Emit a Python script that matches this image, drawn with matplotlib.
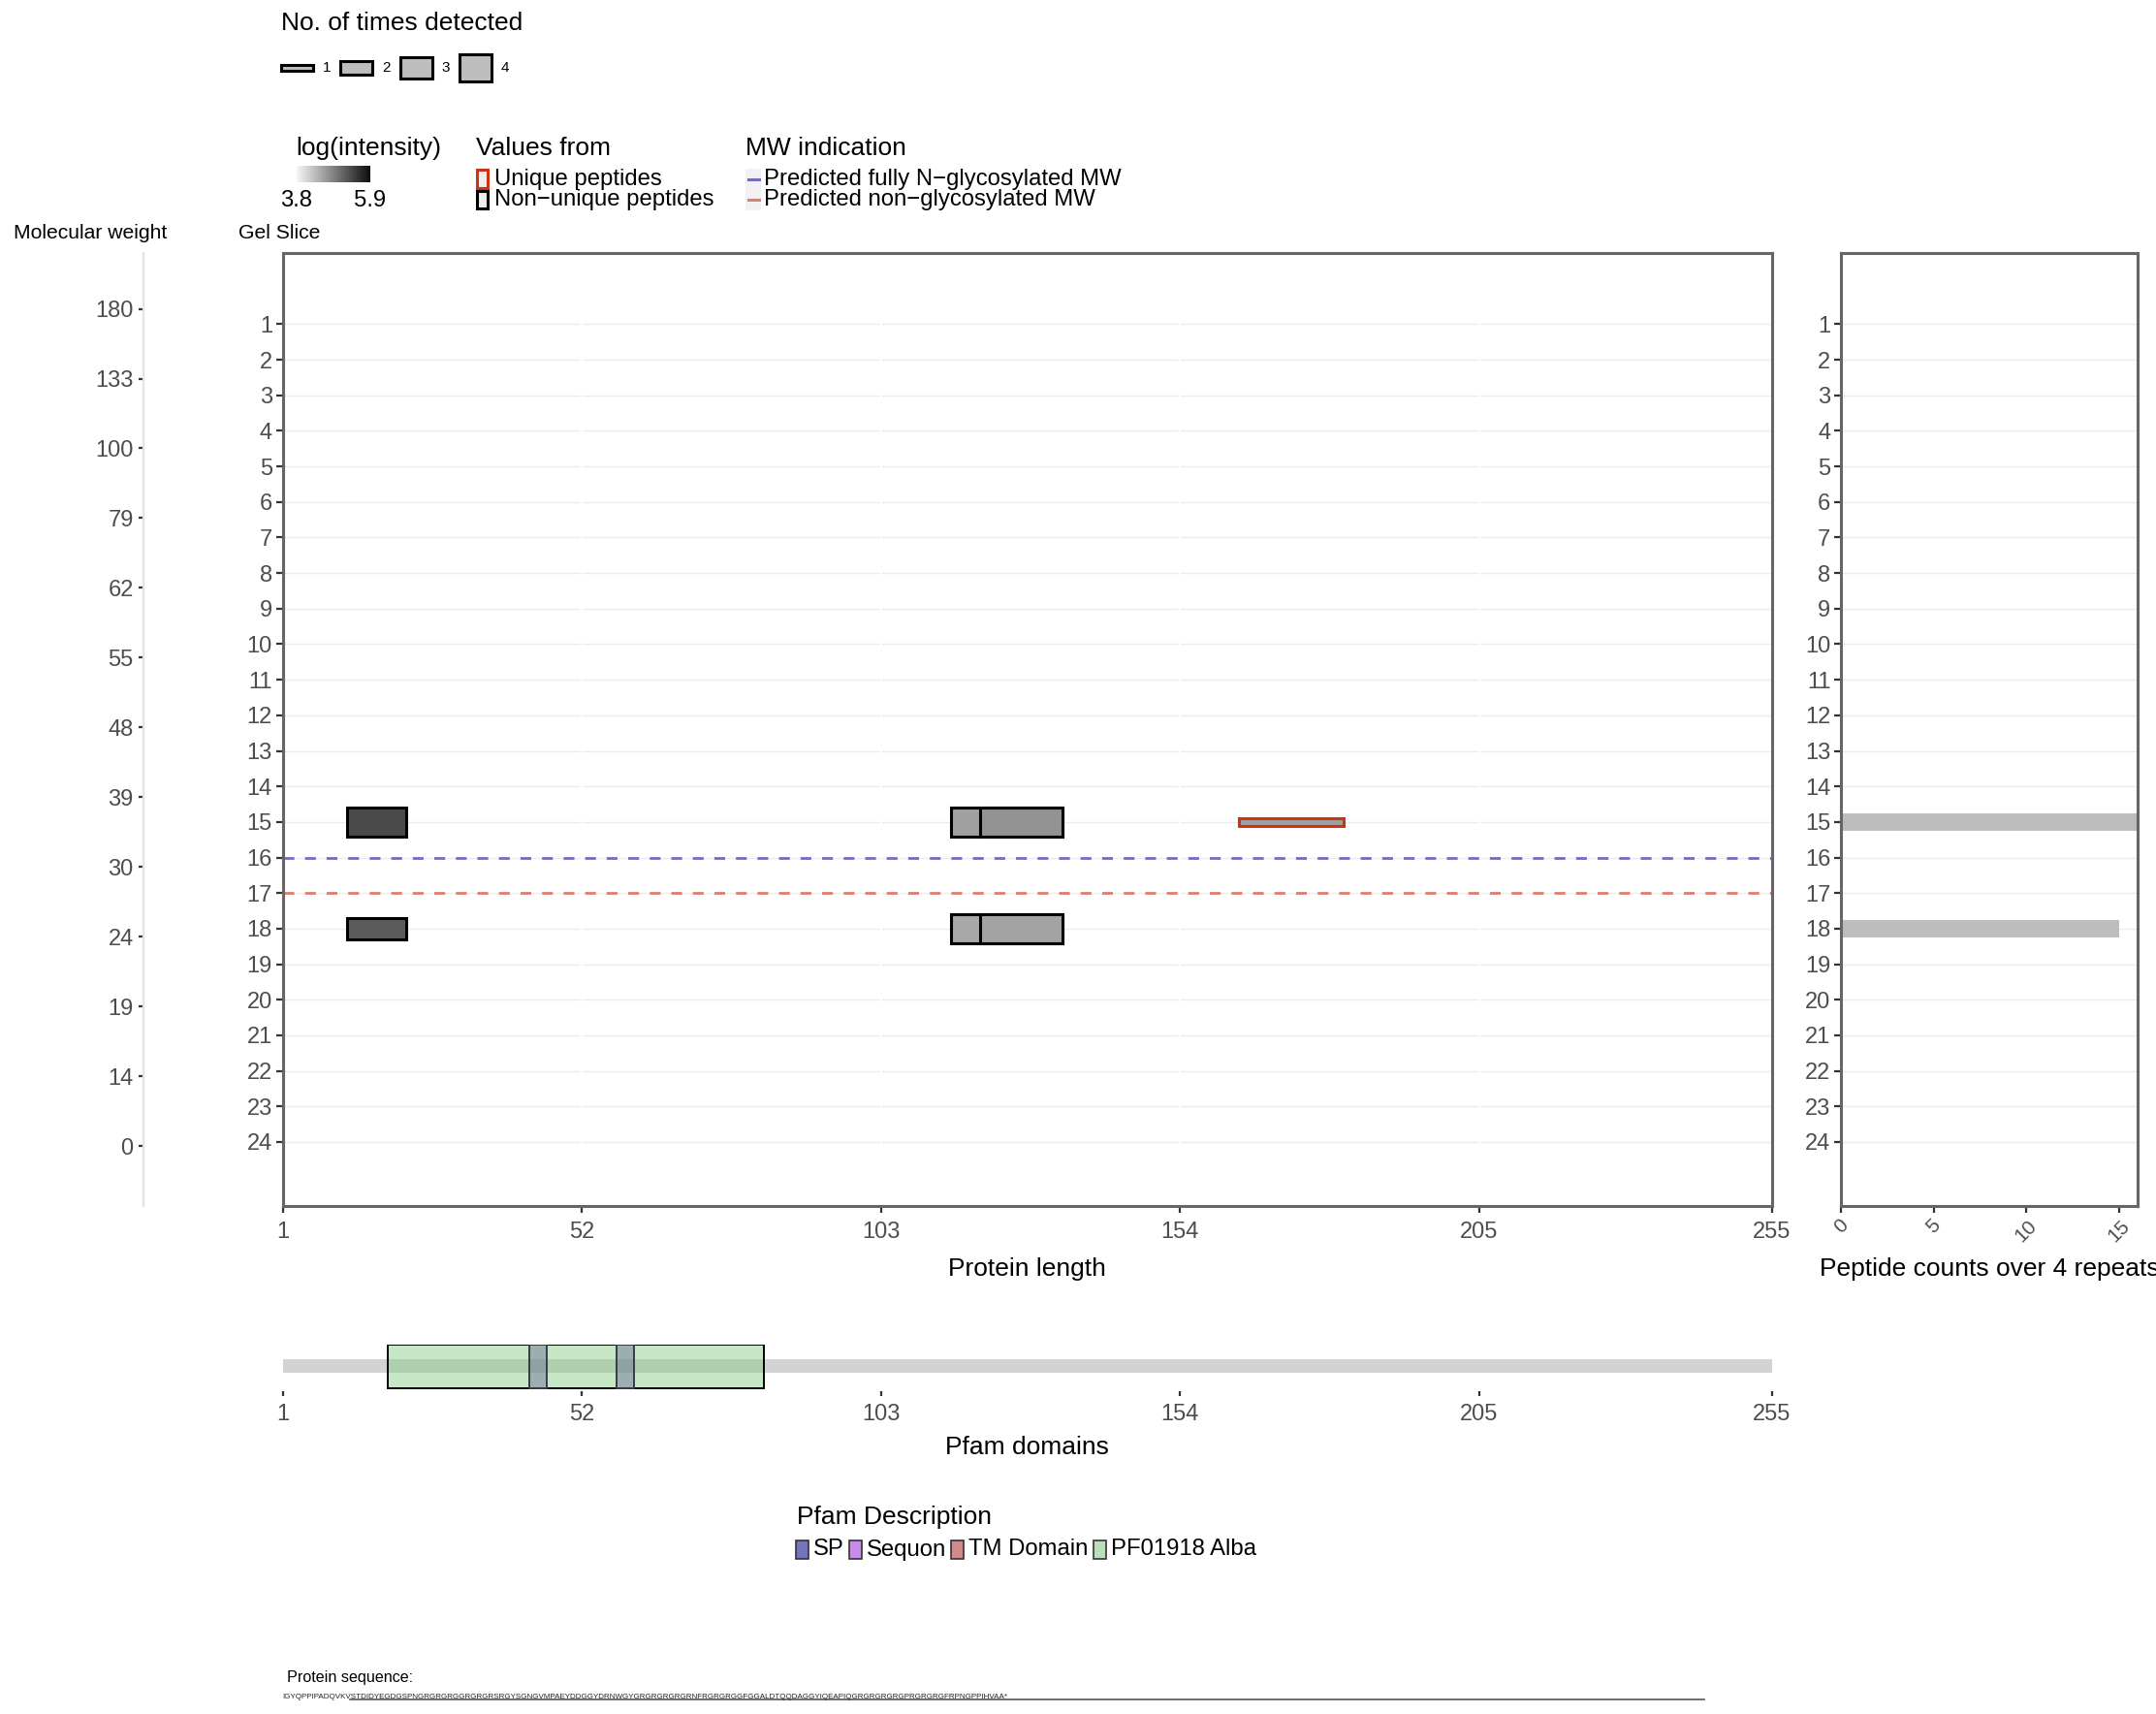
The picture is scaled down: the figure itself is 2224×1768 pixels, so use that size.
import matplotlib
matplotlib.use("Agg")
import matplotlib.pyplot as plt
from matplotlib.patches import Rectangle
from matplotlib.colors import LinearSegmentedColormap, Normalize, to_rgba
from matplotlib.cm import ScalarMappable

plt.rcParams['font.family'] = ['Liberation Sans', 'DejaVu Sans']

W, H, DPI = 2224, 1768, 200

# ---- data ----
slices = list(range(1, 25))
mw_labels = [180, 133, 100, 79, 62, 55, 48, 39, 30, 24, 19, 14, 0]
protein_len = 255
x_ticks = [1, 52, 103, 154, 205, 255]

pep_start = [12, 115, 120, 164, 12, 115, 120]
pep_end = [22, 134, 134, 182, 22, 134, 134]
pep_slice = [15, 15, 15, 15, 18, 18, 18]
pep_times = [4, 4, 4, 1, 3, 4, 4]
pep_intensity = [5.35, 4.58, 4.70, 4.58, 5.19, 4.51, 4.55]
pep_unique = [False, False, False, True, False, False, False]

count_slices = [15, 18]
count_values = [16, 15]
count_ticks = [0, 5, 10, 15]

mw_names = ["Predicted fully N\u2212glycosylated MW", "Predicted non\u2212glycosylated MW"]
mw_slices = [16, 17]
mw_colors = ["#7a68b8", "#de7e6e"]

times_levels = [1, 2, 3, 4]
int_range = [3.8, 5.9]

values_names = ["Unique peptides", "Non\u2212unique peptides"]
values_colors = ["#cc3311", "black"]

pfam_start = [19, 43, 58]
pfam_end = [83, 46, 61]
pfam_type = ["PF01918 Alba", "SP", "SP"]
pfam_names = ["SP", "Sequon", "TM Domain", "PF01918 Alba"]
pfam_legend_colors = ["#7474bb", "#c88aeb", "#cd8b8b", "#b9e0b9"]
pfam_fill = {"SP": "#6a6a98", "Sequon": "#b060e0", "TM Domain": "#b06060", "PF01918 Alba": "#7fcb7f"}

sequence = ("IGYQPPIPADQVKVSTDIDYEGDGSPNGRGRGRGGRGRGRSRGYSGNGVMPAEYDDGGYDRNWGYG"
            "RGRGRGRGRNFRGRGRGGFGGALDTQQDAGGYIQEAPIQGRGRGRGRGPRGRGRGFRPNGPPIHVAA*")
seq_line = [12.6, 263.8]

cmap = LinearSegmentedColormap.from_list("int", ["#f7f7f7", "#0d0d0d"])
norm = Normalize(*int_range)


def fx(x):
    return x / W


def fy(y):
    return 1 - y / H


fig = plt.figure(figsize=(W / DPI, H / DPI), dpi=DPI)

top_px, bot_px = 261, 1244
left_px, right_px = 291.5, 1828
ylim = (25.8, -1.0)
slice_px = (bot_px - top_px) / (ylim[0] - ylim[1])
tick_grey = "#4d4d4d"
frame = "#666666"

# ---- main panel ----
ax = fig.add_axes([fx(left_px), fy(bot_px), fx(right_px) - fx(left_px), fy(top_px) - fy(bot_px)])
ax.set_xlim(1, protein_len)
ax.set_ylim(*ylim)
for s in slices:
    ax.axhline(s, color="#ebebeb", lw=0.5, zorder=0)
for t in x_ticks:
    ax.axvline(t, color="white", lw=0.8, zorder=0.5)
for s, c in zip(mw_slices, mw_colors):
    ax.axhline(s, color=c, lw=1.0, ls=(0, (4, 4)), zorder=1)
for st, en, sl, n, v, u in zip(pep_start, pep_end, pep_slice, pep_times, pep_intensity, pep_unique):
    h = n * 0.2
    ax.add_patch(Rectangle((st, sl - h / 2), en - st, h, facecolor=cmap(norm(v)),
                           edgecolor=values_colors[0] if u else "black", lw=1.1, zorder=3))
ax.set_xticks(x_ticks)
ax.set_yticks(slices)
ax.tick_params(length=2.6, width=0.8, color="#333333", labelcolor=tick_grey, labelsize=8.5, pad=1.2)
ax.tick_params(axis="x", pad=3.2)
for sp in ax.spines.values():
    sp.set_color(frame)
    sp.set_linewidth(1.1)
fig.text(fx((left_px + right_px) / 2), fy(1309), "Protein length", ha="center", va="center", fontsize=9.5)

# ---- peptide counts panel ----
ax2 = fig.add_axes([fx(1899), fy(bot_px), fx(2205) - fx(1899), fy(top_px) - fy(bot_px)])
ax2.set_xlim(0, 16)
ax2.set_ylim(*ylim)
for s in slices:
    ax2.axhline(s, color="#ebebeb", lw=0.5, zorder=0)
ax2.barh(count_slices, count_values, height=0.5, color="#bdbdbd", zorder=2)
ax2.set_yticks(slices)
ax2.set_xticks(count_ticks)
ax2.tick_params(length=2.6, width=0.8, color="#333333", labelcolor=tick_grey, labelsize=8.5, pad=1.2)
ax2.tick_params(axis="x", labelsize=7.5, labelrotation=45)
for sp in ax2.spines.values():
    sp.set_color(frame)
    sp.set_linewidth(1.1)
fig.text(fx(2052), fy(1309), "Peptide counts over 4 repeats", ha="center", va="center", fontsize=9.5)

# ---- molecular weight axis ----
axm = fig.add_axes([fx(147.7), fy(bot_px), 1e-5, fy(top_px) - fy(bot_px)])
axm.set_ylim(12.86, -0.80)
axm.set_yticks(range(len(mw_labels)))
axm.set_yticklabels([str(m) for m in mw_labels])
axm.set_xticks([])
for k in ["top", "right", "bottom"]:
    axm.spines[k].set_visible(False)
axm.spines["left"].set_color("#e3e3e3")
axm.spines["left"].set_linewidth(0.8)
axm.tick_params(length=1.8, width=0.8, color="#333333", labelcolor=tick_grey, labelsize=8.5, pad=1.8)
axm.patch.set_visible(False)

fig.text(fx(93.6), fy(240), "Molecular weight", ha="center", va="center", fontsize=7.6)
fig.text(fx(288), fy(240), "Gel Slice", ha="center", va="center", fontsize=7.6)

# ---- pfam domains ----
axp = fig.add_axes([fx(left_px), fy(1435), fx(right_px) - fx(left_px), fy(1386.7) - fy(1435)])
axp.set_xlim(1, protein_len)
axp.set_ylim(-0.073, 1.0)
axp.add_patch(Rectangle((1, 0.344), protein_len - 1, 0.312, facecolor="#d3d3d3", lw=0, zorder=1))
for st, en, tp in zip(pfam_start, pfam_end, pfam_type):
    ec = "black" if tp == "PF01918 Alba" else "#3a3a4a"
    axp.add_patch(Rectangle((st, 0), en - st, 1, facecolor=to_rgba(pfam_fill[tp], 0.45),
                            edgecolor=ec, lw=0.7, zorder=2))
axp.set_xticks(x_ticks)
axp.set_yticks([])
for sp in axp.spines.values():
    sp.set_visible(False)
axp.patch.set_visible(False)
axp.tick_params(length=1.8, width=0.8, color="#333333", labelcolor=tick_grey, labelsize=8.5, pad=2.8)
fig.text(fx((left_px + right_px) / 2), fy(1493), "Pfam domains", ha="center", va="center", fontsize=9.5)


def frect(x, y, w, h, **kw):
    # rectangle in pixel coords (top-left origin)
    fig.add_artist(Rectangle((fx(x), fy(y + h)), w / W, h / H, transform=fig.transFigure, **kw))


# ---- legend: no. of times detected ----
fig.text(fx(290), fy(24), "No. of times detected", ha="left", va="center", fontsize=9.5)
for i, n in enumerate(times_levels):
    x0 = 290 + i * 61.3
    h = n * 0.2 * slice_px - 1
    frect(x0, 70 - h / 2, 33, h, facecolor="#bebebe", edgecolor="black", lw=1.1)
    fig.text(fx(x0 + 43), fy(70), str(n), ha="left", va="center", fontsize=5.5)

# ---- legend: log(intensity) ----
fig.text(fx(305.6), fy(153), "log(intensity)", ha="left", va="center", fontsize=9.5)
cax = fig.add_axes([fx(305.6), fy(187.5), (382 - 305.6) / W, (187.5 - 171) / H])
cb = fig.colorbar(ScalarMappable(norm=norm, cmap=cmap), cax=cax, orientation="horizontal")
cb.set_ticks(int_range)
cb.set_ticklabels([f"{v:.1f}" for v in int_range])
cb.outline.set_visible(False)
cax.tick_params(length=0, labelsize=8.6, pad=3)

# ---- legend: values from ----
fig.text(fx(491), fy(153), "Values from", ha="left", va="center", fontsize=9.5)
for i, (name, c) in enumerate(zip(values_names, values_colors)):
    y0 = 173.5 + i * 21.7
    frect(492, y0 + 1.5, 11, 18.5, facecolor="#eeeeee", edgecolor=c, lw=1.1)
    fig.text(fx(510), fy(y0 + 11), name, ha="left", va="center", fontsize=8.6)

# ---- legend: MW indication ----
fig.text(fx(769.4), fy(153), "MW indication", ha="left", va="center", fontsize=9.5)
for i, (name, c) in enumerate(zip(mw_names, mw_colors)):
    y0 = 173.5 + i * 21.7
    frect(769.4, y0, 15.5, 21.7, facecolor="#f2f2f2", lw=0)
    fig.add_artist(plt.Line2D([fx(771.5), fx(783)], [fy(y0 + 11)] * 2, color=c, lw=1.1,
                              transform=fig.transFigure))
    fig.text(fx(787.8), fy(y0 + 11), name, ha="left", va="center", fontsize=8.6)

# ---- legend: Pfam description ----
fig.text(fx(822), fy(1565), "Pfam Description", ha="left", va="center", fontsize=9.5)
renderer = fig.canvas.get_renderer()
x = 821
for name, c in zip(pfam_names, pfam_legend_colors):
    frect(x, 1588.5, 13, 19.7, facecolor=c, edgecolor="#333333", lw=0.6)
    t = fig.text(fx(x + 18), fy(1598.5), name, ha="left", va="center", fontsize=8.6)
    x = x + 18 + t.get_window_extent(renderer).width + 5

# ---- protein sequence ----
fig.text(fx(296), fy(1731), "Protein sequence:", ha="left", va="center", fontsize=5.8)
axs = fig.add_axes([fx(291), fy(1760), (1036 - 291) / W, 20 / H])
axs.set_xlim(0, len(sequence))
axs.set_ylim(0, 1)
axs.axis("off")
st = axs.text(0, 0.5, sequence, ha="left", va="center", fontsize=3.0, color="#222222")
w = st.get_window_extent(renderer).width
st.set_fontsize(3.0 * 745 / w)
axs.plot(seq_line, [0.36, 0.36], color="#555555", lw=0.6, clip_on=False)

fig.savefig("out.png", dpi=DPI)
